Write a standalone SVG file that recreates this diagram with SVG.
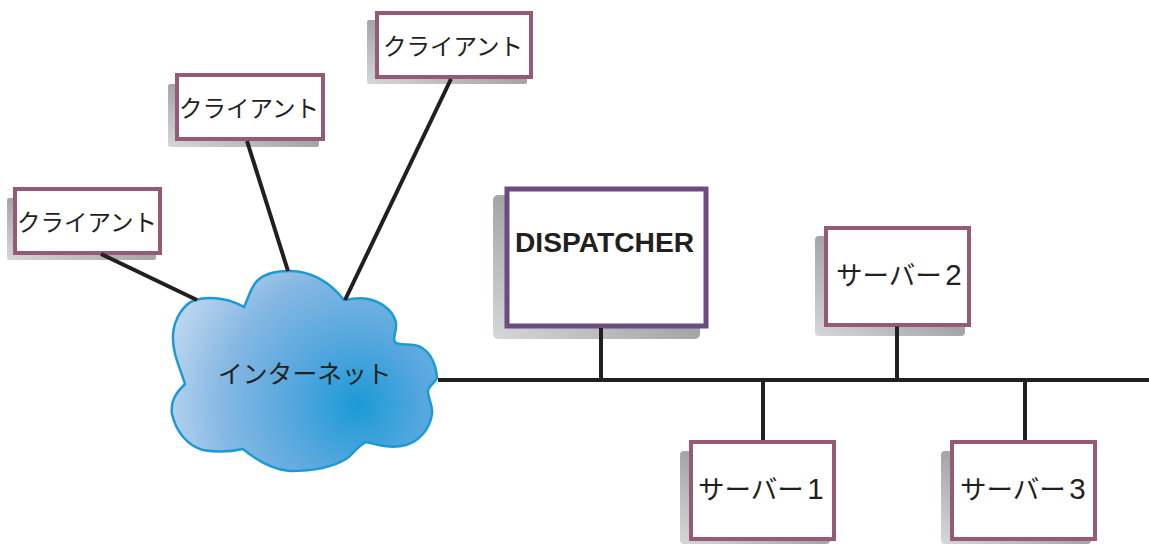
<svg xmlns="http://www.w3.org/2000/svg" width="1149" height="544" viewBox="0 0 1149 544">
<style>
text{font-family:"Liberation Sans","Noto Sans CJK JP",sans-serif;fill:#231f20}
.jp{font-family:"Noto Sans CJK JP",sans-serif;font-size:23.5px;font-weight:400}
.srv{font-size:26.5px}
.num{font-family:"Liberation Sans",sans-serif;font-size:29.5px}
.box{fill:#fff;stroke:#975a76;stroke-width:4}
.disp{fill:#fff;stroke:#6c4b80;stroke-width:5}
.shadow{fill:url(#sh)}
.wire{stroke:#231f20;stroke-width:4;fill:none}
</style>
<defs>
<linearGradient id="sh" x1="0" y1="1" x2="1" y2="0"><stop offset="0" stop-color="#d6d7d9"/><stop offset=".5" stop-color="#a5a6aa"/><stop offset="1" stop-color="#a5a6aa"/></linearGradient>
<radialGradient id="cl" gradientUnits="userSpaceOnUse" cx="358" cy="405" r="210"><stop offset="0" stop-color="#1b9ad6"/><stop offset=".3" stop-color="#52a6dd"/><stop offset=".65" stop-color="#86b8e3"/><stop offset="1" stop-color="#c6dbf1"/></radialGradient>
</defs>
<g id="client1"><rect class="shadow" x="7" y="198" width="149" height="62" rx="2"/><rect class="box" x="15" y="189" width="145" height="64"/><text class="jp" x="17" y="231">クライアント</text></g>
<g id="client2"><rect class="shadow" x="168" y="84" width="151" height="63" rx="2"/><rect class="box" x="177" y="75" width="146" height="64"/><text class="jp" x="179" y="117">クライアント</text></g>
<g id="client3"><rect class="shadow" x="367" y="20" width="160" height="64" rx="2"/><rect class="box" x="377" y="13" width="154" height="64"/><text class="jp" x="383" y="55">クライアント</text></g>
<g id="dispatcher"><rect class="shadow" x="493" y="195" width="207" height="144" rx="5"/><rect class="disp" x="507" y="189" width="199" height="137"/><text x="515" y="252" font-size="28.2" font-weight="700">DISPATCHER</text></g>
<g id="server2"><rect class="shadow" x="815" y="236" width="150" height="100" rx="4"/><rect class="box" x="826" y="228" width="143" height="97"/><text class="jp srv" x="836" y="285">サーバー<tspan class="num" dx="3.500">2</tspan></text></g>
<g id="server1"><rect class="shadow" x="680" y="451" width="150" height="93" rx="4"/><rect class="box" x="691" y="442" width="143" height="97"/><text class="jp srv" x="698" y="499">サーバー<tspan class="num" dx="3.500">1</tspan></text></g>
<g id="server3"><rect class="shadow" x="941" y="451" width="150" height="93" rx="4"/><rect class="box" x="952" y="442" width="143" height="97"/><text class="jp srv" x="960" y="499">サーバー<tspan class="num" dx="3.500">3</tspan></text></g>
<g id="internet"><path fill="url(#cl)" stroke="#1b9ad6" stroke-width="2.5" d="M244 307C249 296 251 287 257 281C265 273 276 271 288 271C310 270 330 282 344 300C355 298 364 297 372 300C385 304 394 313 396 323C397 331 392 339 395 342C397 345 405 344 414 345C428 347 436 362 437 378C434 384 428 387 428 391C428 398 433 406 432 414C430 428 420 441 406 445C392 449 378 445 366 442C358 445 352 456 346 459C330 469 310 471 290 471C272 470 255 459 243 449C230 452 215 452 203 450C188 446 176 432 172 414C170 400 177 392 185 384C180 368 172 352 173 335C174 318 184 304 195 300C212 295 232 300 244 307Z"/><text class="jp" x="218" y="383" style="font-size:24.800px">インターネット</text></g>
<g id="connectors">
<path class="wire" d="M101 254L197 300M247 141L288 271M451 79L345 300M438 380H1149M601 328V380M897 326.500V380M763 380V440M1025 380V440"/>
</g>
</svg>
